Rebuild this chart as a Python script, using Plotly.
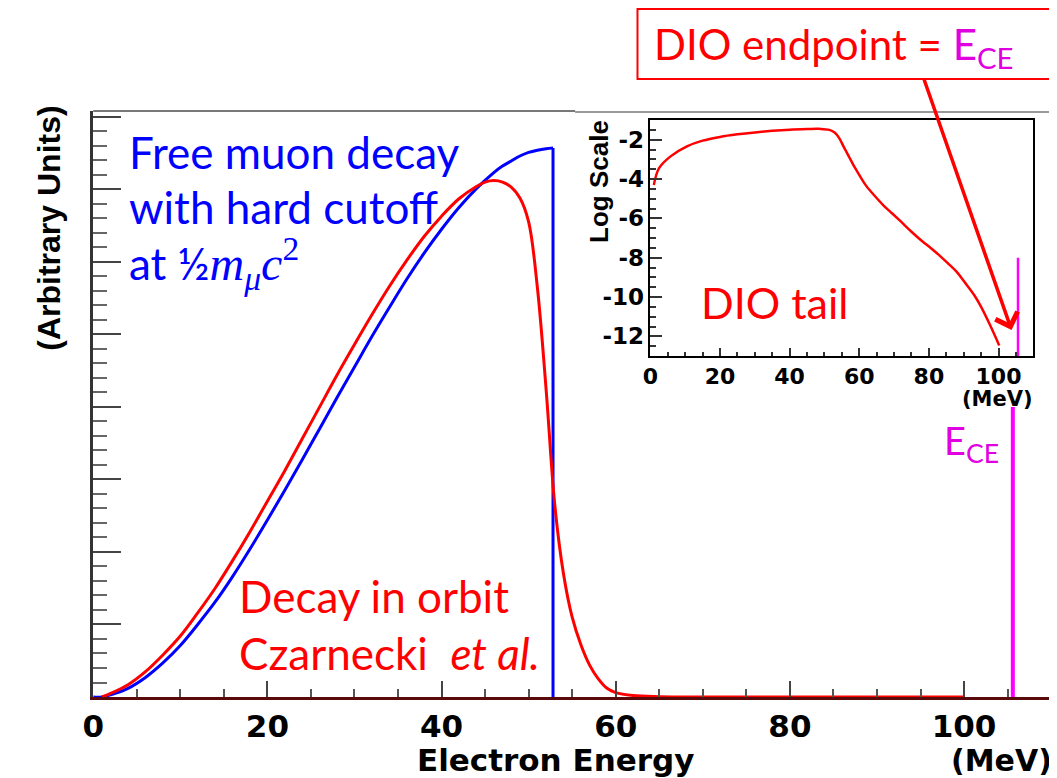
import plotly.graph_objects as go

W, H = 1057, 778
OFF = 8  # page body margin compensation

# ---- data ----
# Free muon decay spectrum (blue), arbitrary units, hard cutoff at 52.8 MeV
E_free = [0, 1, 2, 4, 6, 8, 10, 12, 14, 16, 18, 20, 22, 24, 26, 28, 30, 32, 34, 36,
          38, 40, 42, 44, 46, 47, 48, 49, 50, 51, 52, 52.8]
free_val = [0, 0, 0.03, 0.12, 0.27, 0.47, 0.71, 1.00, 1.31, 1.66, 2.04, 2.44, 2.85, 3.27,
            3.70, 4.13, 4.55, 4.97, 5.37, 5.76, 6.12, 6.45, 6.75, 7.01, 7.23, 7.32, 7.39,
            7.46, 7.51, 7.54, 7.56, 7.57]
# hard cutoff edge
E_cut = [52.8, 52.8]
cut_val = [7.57, 0]

# Decay in orbit (Czarnecki et al.), arbitrary units
E_dio = [1, 2, 4, 6, 8, 10, 12, 14, 16, 18, 20, 22, 24, 26, 28, 30, 32, 34, 36, 38, 40,
         42, 44, 45, 46, 47, 48, 49, 50, 51, 52, 53, 54, 55, 56, 57, 58, 59, 60, 62, 65,
         70, 80, 90, 100]
dio_val = [0, 0.05, 0.17, 0.35, 0.58, 0.84, 1.16, 1.50, 1.88, 2.28, 2.70, 3.12, 3.56, 4.00,
           4.44, 4.86, 5.27, 5.66, 6.02, 6.35, 6.63, 6.87, 7.04, 7.10, 7.12, 7.10, 7.03,
           6.88, 6.55, 5.65, 4.25, 2.65, 1.70, 1.10, 0.72, 0.44, 0.25, 0.12, 0.06, 0.02,
           0.005, 0, 0, 0, 0]

# Conversion electron line
E_ce = [105.6, 105.6]
ce_val = [0, 4.0]

# Inset: DIO tail on log scale
E_tail = [1, 2.5, 5.8, 10.5, 15, 20, 25, 30, 35, 40, 45, 48.5, 51.4, 53, 54.2, 55.5, 57,
          58.5, 60, 62, 64.6, 67, 69.4, 72, 75, 78, 80.7, 83, 85.5, 88, 90.2, 93, 95,
          97.5, 100.2]
tail_log = [-4.3, -3.45, -2.85, -2.34, -2.05, -1.86, -1.73, -1.63, -1.55, -1.49, -1.46,
            -1.45, -1.5, -1.65, -1.91, -2.35, -2.85, -3.35, -3.79, -4.35, -4.89, -5.35,
            -5.74, -6.17, -6.68, -7.15, -7.53, -7.88, -8.29, -8.72, -9.23, -9.9, -10.5,
            -11.4, -12.46]
E_ce_inset = [105.6, 105.6]
ce_inset_log = [-13, -8]

x_ticks = [0, 20, 40, 60, 80, 100]
inset_y_ticks = [-2, -4, -6, -8, -10, -12]

# ---- helpers for pixel placement (target-page pixels) ----
def xp(px):
    return (px - OFF) / W

def yp(py):
    return 1 - (py - OFF) / H

RED = "#ff0000"
BLUE = "#0000ff"
MAG = "#ff00ff"
MAGT = "#e000e0"
TXT = "Lato"
AX = "Liberation Sans"
AXW = "DejaVu Sans"

fig = go.Figure()
fig.add_trace(go.Scatter(x=E_free, y=free_val, mode="lines", line_shape="spline",
                         line=dict(color=BLUE, width=3), xaxis="x", yaxis="y"))
fig.add_trace(go.Scatter(x=E_cut, y=cut_val, mode="lines",
                         line=dict(color=BLUE, width=3), xaxis="x", yaxis="y"))
fig.add_trace(go.Scatter(x=E_dio, y=dio_val, mode="lines", line_shape="spline",
                         line=dict(color=RED, width=3), xaxis="x", yaxis="y"))
fig.add_trace(go.Scatter(x=E_ce, y=ce_val, mode="lines",
                         line=dict(color=MAG, width=4), xaxis="x", yaxis="y"))
fig.add_trace(go.Scatter(x=E_tail, y=tail_log, mode="lines", line_shape="spline",
                         line=dict(color=RED, width=2.5), xaxis="x2", yaxis="y2"))
fig.add_trace(go.Scatter(x=E_ce_inset, y=ce_inset_log, mode="lines",
                         line=dict(color=MAG, width=2.5), xaxis="x2", yaxis="y2"))

shapes = [
    # inset pad (white) and its border
    dict(type="rect", xref="paper", yref="paper", x0=xp(570), x1=xp(1052),
         y0=yp(405), y1=yp(112), fillcolor="white", line_width=0, layer="below"),
    dict(type="line", xref="paper", yref="paper", x0=xp(570), x1=xp(1052),
         y0=yp(112), y1=yp(112), line=dict(color="#999999", width=2)),
    dict(type="line", xref="paper", yref="paper", x0=xp(1052), x1=xp(1052),
         y0=yp(112), y1=yp(405), line=dict(color="#999999", width=2)),
    # main frame top / right
    dict(type="line", xref="paper", yref="paper", x0=xp(83), x1=xp(570),
         y0=yp(111), y1=yp(111), line=dict(color="#777777", width=2)),
    dict(type="line", xref="paper", yref="paper", x0=xp(1050), x1=xp(1050),
         y0=yp(405), y1=yp(697), line=dict(color="#555555", width=2)),
    # callout box
    dict(type="rect", xref="paper", yref="paper", x0=xp(633), x1=xp(1055),
         y0=yp(79), y1=yp(9), line=dict(color=RED, width=2), fillcolor="rgba(0,0,0,0)"),
]

def ann(text, x, y, size, color, xanchor="left", yanchor="middle", family=TXT, **kw):
    return dict(text=text, x=xp(x), y=yp(y), xref="paper", yref="paper",
                xanchor=xanchor, yanchor=yanchor, showarrow=False,
                font=dict(family=family, size=size, color=color), **kw)

math = ('at ½<span style="font-family:Liberation Serif;font-size:48px"><i>m</i>'
        '<sub><i>μ</i></sub><i>c</i><sup>2</sup></span>')

annotations = [
    ann("Free muon decay", 117, 152, 44, BLUE),
    ann("with hard cutoff", 117, 207, 44, BLUE),
    ann(math, 117, 264, 44, BLUE),
    ann("Decay in orbit", 228, 596, 44, RED),
    ann("Czarnecki  <i>et al.</i>", 228, 653, 44, RED),
    ann("DIO tail", 695, 302, 43, RED),
    ann("E<sub>CE</sub>", 941, 443, 38, MAGT),
    ann('DIO endpoint = <span style="color:#e000e0">E<sub>CE</sub></span>', 648, 47, 42, RED),
    # axis titles
    dict(text="<b>Electron Energy</b>", x=xp(550), y=yp(760), xref="paper", yref="paper",
         showarrow=False, xanchor="center", yanchor="middle",
         font=dict(family=AXW, size=31, color="black")),
    dict(text="<b>(MeV)</b>", x=xp(1054), y=yp(760), xref="paper", yref="paper",
         showarrow=False, xanchor="right", yanchor="middle",
         font=dict(family=AXW, size=30, color="black")),
    dict(text="<b>(Arbitrary Units)</b>", x=xp(38), y=yp(228), xref="paper", yref="paper",
         showarrow=False, xanchor="center", yanchor="middle", textangle=-90,
         font=dict(family=AX, size=32, color="black")),
    dict(text="<b>Log Scale</b>", x=xp(594), y=yp(181), xref="paper", yref="paper",
         showarrow=False, xanchor="center", yanchor="middle", textangle=-90,
         font=dict(family=AX, size=26, color="black")),
    dict(text="<b>(MeV)</b>", x=xp(1035), y=yp(399), xref="paper", yref="paper",
         showarrow=False, xanchor="right", yanchor="middle",
         font=dict(family=AXW, size=21, color="black")),
    # arrow
    dict(text="", x=xp(1011), y=yp(330), xref="paper", yref="paper", showarrow=True,
         ax=923 - 1011, ay=78 - 330, axref="pixel", ayref="pixel",
         arrowcolor=RED, arrowwidth=3.5, arrowhead=4, arrowsize=1.3),
]

fig.update_layout(
    width=W, height=H, autosize=False,
    margin=dict(l=0, r=0, t=0, b=0),
    paper_bgcolor="white", plot_bgcolor="rgba(0,0,0,0)",
    showlegend=False,
    xaxis=dict(domain=[xp(83), xp(1051)], range=[0, 110], anchor="y",
               tickmode="array", tickvals=x_ticks, ticktext=[str(v) for v in x_ticks],
               ticks="inside", ticklen=16, tickwidth=2, tickcolor="#444444",
               minor=dict(ticks="inside", dtick=5, tick0=0, ticklen=8, tickwidth=2,
                          tickcolor="#555555"),
               showline=True, linecolor="#5a0a0a", linewidth=3,
               showgrid=False, zeroline=False,
               tickfont=dict(family=AXW, size=31, color="black", weight="bold")),
    yaxis=dict(domain=[yp(697), yp(111)], range=[0, 8.08], anchor="x",
               tick0=0, dtick=1, showticklabels=False,
               ticks="inside", ticklen=28, tickwidth=2, tickcolor="#444444",
               minor=dict(ticks="inside", dtick=0.2, ticklen=14, tickwidth=2,
                          tickcolor="#666666"),
               showline=True, linecolor="#333333", linewidth=3,
               showgrid=False, zeroline=False),
    xaxis2=dict(domain=[xp(646), xp(1033)], range=[0, 110], anchor="y2",
                tickmode="array", tickvals=x_ticks, ticktext=[str(v) for v in x_ticks],
                ticks="inside", ticklen=8, tickwidth=1.5, tickcolor="#333333",
                minor=dict(ticks="inside", dtick=5, tick0=0, ticklen=4, tickwidth=1.5,
                           tickcolor="#333333"),
                showline=True, linecolor="black", linewidth=1.5, mirror=True,
                showgrid=False, zeroline=False,
                tickfont=dict(family=AXW, size=22, color="black", weight="bold")),
    yaxis2=dict(domain=[yp(356), yp(120)], range=[-13, -1], anchor="x2",
                tickmode="array", tickvals=inset_y_ticks,
                ticktext=[str(v) for v in inset_y_ticks],
                ticks="inside", ticklen=12, tickwidth=1.5, tickcolor="#333333",
                minor=dict(ticks="inside", dtick=0.5, tick0=-13, ticklen=6, tickwidth=1.5,
                           tickcolor="#333333"),
                showline=True, linecolor="black", linewidth=1.5, mirror=True,
                showgrid=False, zeroline=False,
                tickfont=dict(family=AXW, size=23, color="black", weight="bold")),
    shapes=shapes,
    annotations=annotations,
)

fig.write_html("out.html")
